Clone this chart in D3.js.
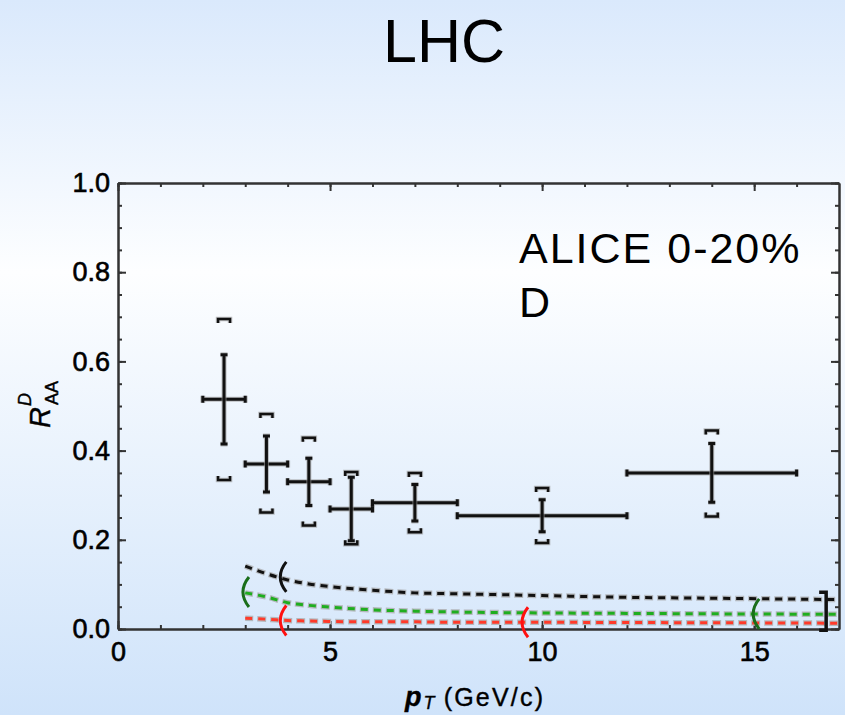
<!DOCTYPE html>
<html>
<head>
<meta charset="utf-8">
<script src="https://cdn.jsdelivr.net/npm/d3@7"></script>
<style>
	body { margin: 0; }
	svg { display: block; font-family: "Liberation Sans", Arial, sans-serif; }
</style>
</head>
<body>
<svg id="plot" width="845" height="715"></svg>
<script>

// ALICE D-meson R_AA, 0-20%
const PT_CENTER = [2.5, 3.5, 4.5, 5.5, 7, 10, 14];
const PT_LOW = [2, 3, 4, 5, 6, 8, 12];
const PT_HIGH = [3, 4, 5, 6, 8, 12, 16];
const RAA = [0.515, 0.370, 0.330, 0.269, 0.283, 0.254, 0.350];
const STAT_ERR = [0.100, 0.063, 0.053, 0.071, 0.041, 0.036, 0.066];
const SYST_HIGH = [0.695, 0.482, 0.429, 0.352, 0.350, 0.316, 0.445];
const SYST_LOW = [0.334, 0.261, 0.232, 0.190, 0.217, 0.193, 0.252];

// model curves
const CURVE_PT = [3, 3.5, 4, 4.5, 5, 6, 7, 8, 10, 12, 14, 17];
const CURVE_BLACK = [0.141, 0.124, 0.110, 0.101, 0.095, 0.087, 0.081, 0.079, 0.075, 0.071, 0.069, 0.066];
const CURVE_GREEN = [0.081, 0.072, 0.059, 0.053, 0.049, 0.043, 0.040, 0.038, 0.036, 0.035, 0.034, 0.033];
const CURVE_RED = [0.024, 0.022, 0.019, 0.018, 0.017, 0.016, 0.016, 0.015, 0.015, 0.0145, 0.014, 0.013];

// "(" and "]" marks on the curves
const MARK_PT = [3.85, 2.97, 3.85, 9.55, 15.0, 16.65];
const MARK_Y = [0.117, 0.083, 0.019, 0.015, 0.034, 0.040];
const MARK_KIND = ['(', '(', '(', '(', '(', ']'];
const MARK_COLOR = ['#111111', '#1a6e1a', '#ff1010', '#ff1010', '#1a6e1a', '#111111'];

const X_MAJOR = [0, 5, 10, 15];
const Y_MAJOR = [0, 0.2, 0.4, 0.6, 0.8, 1.0];

function whenDocumentLoaded(action) {
	if (document.readyState === "loading") {
		document.addEventListener("DOMContentLoaded", action);
	} else {
		action();
	}
}

function drawChart() {
	const svg = d3.select('#plot');

	// background gradient
	const grad = svg.append('defs').append('linearGradient')
		.attr('id', 'bg').attr('x1', 0).attr('y1', 0).attr('x2', 0).attr('y2', 1);
	grad.append('stop').attr('offset', '0%').attr('stop-color', '#dae9fc');
	grad.append('stop').attr('offset', '38%').attr('stop-color', '#fdfeff');
	grad.append('stop').attr('offset', '100%').attr('stop-color', '#cfe3fa');
	svg.append('rect').attr('width', 845).attr('height', 715).attr('fill', 'url(#bg)');

	svg.append('text')
		.attr('x', 444).attr('y', 62)
		.attr('text-anchor', 'middle')
		.attr('font-size', 61)
		.text('LHC');

	const x = d3.scaleLinear().domain([0, 17]).range([118, 839]);
	const y = d3.scaleLinear().domain([0, 1]).range([629, 183]);

	// axes (ticks point inward)
	const styleAxis = (g) => {
		g.selectAll('.domain').attr('stroke', '#333').attr('stroke-width', 2);
		g.selectAll('.tick line').attr('stroke', '#333').attr('stroke-width', 2);
		g.selectAll('text').attr('fill', '#000').attr('font-size', 27)
			.attr('stroke', '#000').attr('stroke-width', 0.6)
			.attr('font-family', '"Liberation Sans", Arial, sans-serif');
	};

	const xMinor = d3.range(0, 17, 1);
	const yMinor = d3.range(0, 1.001, 0.05);

	svg.append('g').attr('transform', 'translate(0,629)')
		.call(d3.axisBottom(x).tickValues(xMinor).tickSize(-4).tickSizeOuter(0).tickFormat(''))
		.call(styleAxis);
	svg.append('g').attr('transform', 'translate(0,629)')
		.call(d3.axisBottom(x).tickValues(X_MAJOR).tickSize(-8).tickSizeOuter(0).tickPadding(13).tickFormat(d3.format('d')))
		.call(styleAxis);
	svg.append('g').attr('transform', 'translate(0,183)')
		.call(d3.axisTop(x).tickValues(xMinor).tickSize(-4).tickSizeOuter(0).tickFormat(''))
		.call(styleAxis);
	svg.append('g').attr('transform', 'translate(0,183)')
		.call(d3.axisTop(x).tickValues(X_MAJOR).tickSize(-8).tickSizeOuter(0).tickFormat(''))
		.call(styleAxis);

	svg.append('g').attr('transform', 'translate(118,0)')
		.call(d3.axisLeft(y).tickValues(yMinor).tickSize(-4).tickSizeOuter(0).tickFormat(''))
		.call(styleAxis);
	svg.append('g').attr('transform', 'translate(118,0)')
		.call(d3.axisLeft(y).tickValues(Y_MAJOR).tickSize(-8).tickSizeOuter(0).tickPadding(8).tickFormat(d3.format('.1f')))
		.call(styleAxis);
	svg.append('g').attr('transform', 'translate(839,0)')
		.call(d3.axisRight(y).tickValues(yMinor).tickSize(-4).tickSizeOuter(0).tickFormat(''))
		.call(styleAxis);
	svg.append('g').attr('transform', 'translate(839,0)')
		.call(d3.axisRight(y).tickValues(Y_MAJOR).tickSize(-8).tickSizeOuter(0).tickFormat(''))
		.call(styleAxis);

	// axis titles
	const xt = svg.append('text')
		.attr('x', 405).attr('y', 706)
		.attr('font-size', 25).attr('stroke', '#000').attr('stroke-width', 0.4);
	xt.append('tspan').attr('font-style', 'italic').attr('font-weight', 'bold').attr('font-size', 27).text('p');
	xt.append('tspan').attr('font-style', 'italic').attr('font-size', 18).attr('dy', 3).attr('dx', 2).text('T');
	xt.append('tspan').attr('dy', -3).attr('letter-spacing', 2.2).text(' (GeV/c)');

	const yt = svg.append('g').attr('transform', 'translate(50,428) rotate(-90)')
		.attr('stroke', '#000').attr('stroke-width', 0.4);
	yt.append('text').attr('font-size', 29).attr('font-style', 'italic').text('R');
	yt.append('text').attr('x', 22).attr('y', -19).attr('font-size', 18).attr('font-style', 'italic').text('D');
	yt.append('text').attr('x', 23).attr('y', 8).attr('font-size', 18).text('AA');

	// legend text
	svg.append('text').attr('x', 519).attr('y', 263).attr('font-size', 43)
		.attr('letter-spacing', 2).text('ALICE 0-20%');
	svg.append('text').attr('x', 519).attr('y', 317).attr('font-size', 43).text('D');

	// model curves (dashes with a grey rim)
	const plotArea = svg.append('g');
	const line = d3.line().x((d) => x(d[0])).y((d) => y(d[1])).curve(d3.curveMonotoneX);
	const curves = [
		{ vals: CURVE_BLACK, color: '#111111' },
		{ vals: CURVE_GREEN, color: '#1fae1f' },
		{ vals: CURVE_RED, color: '#ff3a2a' }
	];
	curves.forEach((c) => {
		const pts = CURVE_PT.map((p, i) => [p, c.vals[i]]);
		plotArea.append('path').attr('d', line(pts))
			.attr('fill', 'none').attr('stroke', '#b4b8bd').attr('stroke-width', 5.5)
			.attr('stroke-dasharray', '9,4').attr('stroke-dashoffset', 1);
		plotArea.append('path').attr('d', line(pts))
			.attr('fill', 'none').attr('stroke', c.color).attr('stroke-width', 3)
			.attr('stroke-dasharray', '7,6');
	});

	// marks
	MARK_PT.forEach((p, i) => {
		const cx = x(p), cy = y(MARK_Y[i]);
		let d;
		if (MARK_KIND[i] === '(') {
			d = `M${cx + 5},${cy - 15} Q${cx - 7},${cy} ${cx + 5},${cy + 15}`;
		} else {
			d = `M${cx - 5},${cy - 19} H${cx + 2} V${cy + 19} H${cx - 5}`;
		}
		plotArea.append('path').attr('d', d).attr('fill', 'none')
			.attr('stroke', MARK_COLOR[i]).attr('stroke-width', MARK_KIND[i] === '(' ? 3 : 3.5);
	});

	// data points
	const bars = svg.append('g');
	const drawPath = (d, w) => {
		bars.append('path').attr('d', d).attr('fill', 'none')
			.attr('stroke', '#9a9a9a').attr('stroke-opacity', 0.6).attr('stroke-width', w + 2);
		bars.append('path').attr('d', d).attr('fill', 'none')
			.attr('stroke', '#111').attr('stroke-width', w);
	};
	PT_CENTER.forEach((p, i) => {
		const cx = x(p), cy = y(RAA[i]);
		const x0 = x(PT_LOW[i]), x1 = x(PT_HIGH[i]);
		const yTop = y(RAA[i] + STAT_ERR[i]), yBot = y(RAA[i] - STAT_ERR[i]);
		const sTop = y(SYST_HIGH[i]), sBot = y(SYST_LOW[i]);
		drawPath(`M${x0},${cy} H${x1} M${x0},${cy - 3.5} V${cy + 3.5} M${x1},${cy - 3.5} V${cy + 3.5}`, 3);
		drawPath(`M${cx},${yTop} V${yBot} M${cx - 3.5},${yTop} H${cx + 3.5} M${cx - 3.5},${yBot} H${cx + 3.5}`, 3);
		drawPath(`M${cx - 6},${sTop + 4} V${sTop} H${cx + 6} V${sTop + 4}`, 2.5);
		drawPath(`M${cx - 6},${sBot - 4} V${sBot} H${cx + 6} V${sBot - 4}`, 2.5);
	});
}

whenDocumentLoaded(drawChart);
</script>
</body>
</html>
